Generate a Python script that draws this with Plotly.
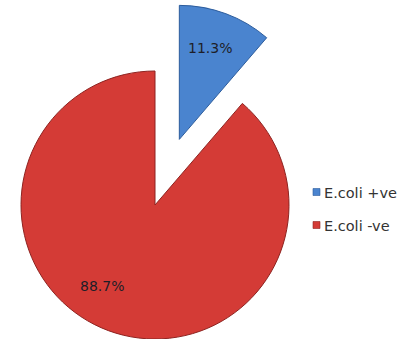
import math
import plotly.graph_objects as go

# Share of samples by E. coli result
labels = ["E.coli +ve", "E.coli -ve"]
values = [11.3, 88.7]
colors = ["#4a84cf", "#d43b36"]
edge_colors = ["#2c5c9c", "#8e2320"]

W, H = 404, 339
R = 134                      # pie radius in px
CX, CY = 155, 205            # centre of the main disc (px from top-left)
EXPLODE = 70                 # offset of the separated slice (px)

total = sum(values)
starts = [sum(values[:i]) / total * 360.0 for i in range(len(values))]
spans = [v / total * 360.0 for v in values]
mid0 = starts[0] + spans[0] / 2          # bisector of first slice (deg, clockwise from 12)
ex_cx = CX + EXPLODE * math.sin(math.radians(mid0))
ex_cy = CY - EXPLODE * math.cos(math.radians(mid0))

LABEL_FONT = dict(family="DejaVu Sans", size=14, color="#1e1e28")
LEGEND_FONT = dict(family="DejaVu Sans", size=14.5, color="#333333")


def box(cx, cy):
    return dict(
        x=[(cx - R) / W, (cx + R) / W],
        y=[max(0.0, 1 - (cy + R) / H), min(1.0, 1 - (cy - R) / H)],
    )


def slice_trace(keep, cx, cy):
    fill = [c if i == keep else "rgba(0,0,0,0)" for i, c in enumerate(colors)]
    line = [c if i == keep else "rgba(0,0,0,0)" for i, c in enumerate(edge_colors)]
    return go.Pie(
        labels=labels,
        values=values,
        sort=False,
        direction="clockwise",
        rotation=0,
        textinfo="none",
        marker=dict(colors=fill, line=dict(color=line, width=1)),
        domain=box(cx, cy),
        showlegend=False,
        hoverinfo="label+percent",
    )


fig = go.Figure()
fig.add_trace(slice_trace(1, CX, CY))
fig.add_trace(slice_trace(0, ex_cx, ex_cy))


def put_label(i, cx, cy, ang_deg, frac):
    a = math.radians(ang_deg)
    x = cx + frac * R * math.sin(a)
    y = cy - frac * R * math.cos(a)
    fig.add_annotation(
        x=x / W, y=1 - y / H, xref="paper", yref="paper",
        xanchor="center", yanchor="middle",
        text="%.1f%%" % values[i], showarrow=False, font=LABEL_FONT,
    )


# percentage labels inside the slices
put_label(0, ex_cx, ex_cy, mid0 - 2, 0.72)
put_label(1, CX, CY, starts[1] + spans[1] * 0.54, 0.72)

# legend: coloured key squares with their names
for i, (lab, col) in enumerate(zip(labels, colors)):
    yc = 192 + 33 * i
    fig.add_shape(
        type="rect", xref="paper", yref="paper",
        x0=313 / W, x1=320 / W, y0=1 - (yc + 3.5) / H, y1=1 - (yc - 3.5) / H,
        fillcolor=col, line=dict(color=edge_colors[i], width=0.6),
    )
    fig.add_annotation(
        x=322 / W, y=1 - (yc + 1) / H, xref="paper", yref="paper",
        xanchor="left", yanchor="middle",
        text=lab, showarrow=False, font=LEGEND_FONT,
    )

fig.update_layout(
    width=W, height=H,
    margin=dict(l=0, r=0, t=0, b=0),
    paper_bgcolor="white",
    plot_bgcolor="white",
    showlegend=False,
)

fig.write_html("out.html")
